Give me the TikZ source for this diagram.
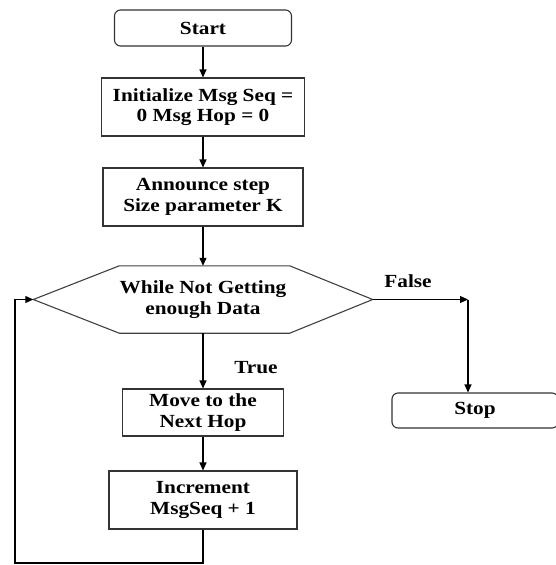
\documentclass[tikz,border=0pt]{standalone}
\usepackage{fontspec}
\setmainfont{Liberation Serif}[FakeStretch=1.15]
\usetikzlibrary{arrows.meta,calc}

\begin{document}
\begin{tikzpicture}[x=1pt,y=-1pt,
  c/.style={draw=black!80,line width=1.1pt,align=center,font=\fontsize{18.5}{20.5}\selectfont\bfseries,inner sep=2pt},
  rc/.style={c,rounded corners=6pt},
  hx/.style={draw=black!75,line width=1.1pt},
  arr/.style={-{Triangle[length=8pt,width=7pt]},line width=1.1pt},
  lab/.style={font=\fontsize{18.5}{20.5}\selectfont\bfseries,align=center}]
\useasboundingbox (0,0) rectangle (556,565);
\clip (0,0) rectangle (556,565);
\node[rc,minimum width=177pt,minimum height=36pt] (start) at (203,28) {Start};
\node[c,minimum width=203pt,minimum height=58pt] (init) at (203,107) {Initialize Msg Seq =\\0 Msg Hop = 0};
\node[c,minimum width=200pt,minimum height=58pt] (ann) at (203,197) {Announce step\\Size parameter K};
\node[lab,minimum width=339pt,minimum height=67pt] (hex) at (203,299.5) {While Not Getting\\enough Data};
\draw[hx] (hex.west) -- ($(hex.north west)+(86,0)$) -- ($(hex.north east)+(-83,0)$) -- (hex.east)
  -- ($(hex.south east)+(-83,0)$) -- ($(hex.south west)+(86,0)$) -- cycle;
\node[c,minimum width=161pt,minimum height=47pt] (mv) at (203,412.5) {Move to the\\Next Hop};
\node[c,minimum width=188pt,minimum height=58pt] (inc) at (203,500) {Increment\\MsgSeq + 1};
\node[rc,minimum width=166pt,minimum height=35pt] (stop) at (475,410.5) {Stop};
\coordinate (fc) at (468,299.5);
\coordinate (lb) at (15,563);
\draw[arr] (start) -- (init);
\draw[arr] (init) -- (ann);
\draw[arr] (ann) -- (hex.north);
\draw[arr] (hex.south) -- (mv);
\draw[arr] (mv) -- (inc);
\draw[arr] (hex.east) -- (fc);
\draw[arr] (fc) -- (fc |- stop.north);
\draw[arr] (inc.south) |- (lb) |- (hex.west);
\node[lab] (lf) at (408,281) {False};
\node[lab] (lt) at (256,368) {True};
\end{tikzpicture}
\end{document}
